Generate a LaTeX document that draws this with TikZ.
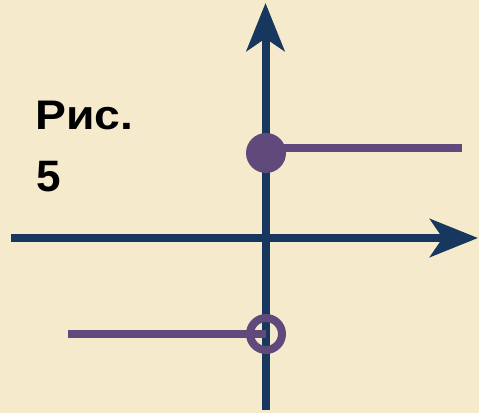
\documentclass[tikz,border=0pt]{standalone}
\usepackage{fontspec}
\setmainfont{Liberation Sans}
\usetikzlibrary{arrows.meta}

\definecolor{parchment}{RGB}{246,234,205}
\definecolor{axisblue}{RGB}{23,55,94}
\definecolor{graphpurple}{RGB}{96,74,123}

\tikzset{every picture/.style={line width=0.75pt}}
\tikzset{
  axisline/.style={color=axisblue, line width=6pt, -{Stealth[length=36pt, width=28.5pt, inset=9.5pt]}},
  graphline/.style={color=graphpurple, line width=6.5pt},
  fulldot/.style={circle, fill=graphpurple, minimum size=30pt, inner sep=0pt},
  opendot/.style={circle, draw=graphpurple, line width=6pt, minimum size=24pt, inner sep=0pt},
  figlabel/.style={anchor=base west, inner sep=0pt, font=\bfseries}
}

\begin{document}
\begin{tikzpicture}[x=0.75pt,y=0.75pt,yscale=-1,xscale=1]
        %Background
        \fill [parchment] (0,0) rectangle (479,413);
        \useasboundingbox (0,0) rectangle (479,413);

        % Axis ends
        \coordinate (yaxbot) at (265.5,410);
        \coordinate (yaxtop) at (265.5,3);
        \coordinate (xaxleft) at (11,238);
        \coordinate (xaxright) at (478,238);
        % Points of the graph
        \coordinate (fullc) at (266,153);
        \coordinate (openc) at (266,334);
        \coordinate (upend) at (462,148);
        \coordinate (lowend) at (68,334);

        %Straight Lines (axes)
        \draw [axisline] (yaxbot) -- (yaxtop) ;
        \draw [axisline] (xaxleft) -- (xaxright) ;

        %Straight Lines (graph)
        \draw [graphline] (fullc |- upend) -- (upend) ;
        \draw [graphline] (lowend) -- (openc) ;

        %Shape: Circle (closed point)
        \node [fulldot] (fullpt) at (fullc) {} ;
        %Shape: Circle (open point)
        \node [opendot] (openpt) at (openc) {} ;

        % Text Node
        \draw (35,130) node [figlabel] (figword) {\fontsize{31}{33}\selectfont\scalebox{1.12}[1]{Рис.}};
        % Text Node
        \draw (36,192) node [figlabel] (fignum) {\fontsize{33}{35}\selectfont 5};

\end{tikzpicture}
\end{document}
